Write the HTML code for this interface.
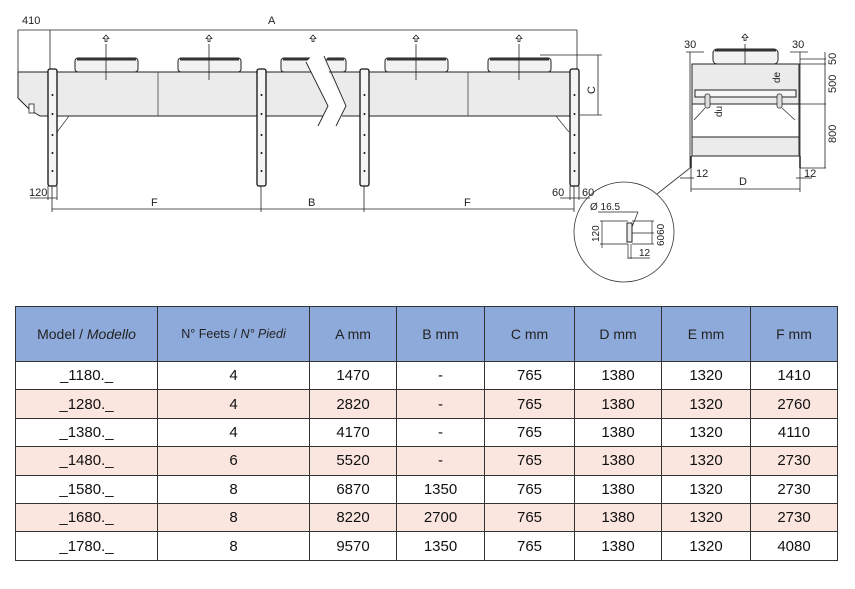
<!DOCTYPE html>
<html><head><meta charset="utf-8"><style>
html,body{margin:0;padding:0;background:#fff;width:855px;height:589px;overflow:hidden;position:relative;font-family:"Liberation Sans",Arial,sans-serif}
svg{position:absolute;left:0;top:0}
table{position:absolute;left:15px;top:306px;border-collapse:collapse;table-layout:fixed}
td{border:1.5px solid #333;text-align:center;font-size:15px;color:#111;padding:0;height:27.4px}
tr.h td{background:#8eaadb;height:54px;font-size:14px;color:#222}
tr.p td{background:#fbe6df}
</style></head><body>
<svg width="855" height="300" viewBox="0 0 855 300" font-family="Liberation Sans Narrow, Liberation Sans, sans-serif" font-size="11" fill="#222">
<g stroke="#222" stroke-width="0.8" fill="none">
<line x1="18" y1="30" x2="577" y2="30"/>
<line x1="18" y1="30" x2="18" y2="72"/>
<line x1="50" y1="30" x2="50" y2="72"/>
<line x1="577" y1="30" x2="577" y2="72"/>
<line x1="540" y1="55" x2="602" y2="55"/>
<line x1="580" y1="115" x2="602" y2="115"/>
<line x1="598" y1="55" x2="598" y2="115"/>
</g>
<path d="M18 72 L577 72 L577 116 L40 116 L30 110 L18 98 Z" fill="#ebebeb" stroke="#222" stroke-width="1"/>
<g stroke="#444" stroke-width="0.8"><line x1="158" y1="72" x2="158" y2="116"/><line x1="468" y1="72" x2="468" y2="116"/></g>
<g fill="#f2f2f2" stroke="#222" stroke-width="1">
<rect x="75" y="58" width="63" height="14" rx="3"/><rect x="178" y="58" width="63" height="14" rx="3"/><rect x="281" y="58" width="65" height="14" rx="3"/><rect x="385" y="58" width="63" height="14" rx="3"/><rect x="488" y="58" width="63" height="14" rx="3"/>
</g>
<g fill="#333">
<rect x="77" y="58" width="59" height="2.5"/><rect x="180" y="58" width="59" height="2.5"/><rect x="283" y="58" width="61" height="2.5"/><rect x="387" y="58" width="59" height="2.5"/><rect x="490" y="58" width="59" height="2.5"/>
</g>
<g stroke="#222" stroke-width="0.8" fill="#fff">
<line x1="106" y1="44" x2="106" y2="80"/><line x1="209" y1="44" x2="209" y2="80"/><line x1="416" y1="44" x2="416" y2="80"/><line x1="519" y1="44" x2="519" y2="80"/>
<path d="M106 35 l-3 3.5 h2 v3 h2 v-3 h2 z"/><path d="M209 35 l-3 3.5 h2 v3 h2 v-3 h2 z"/><path d="M313 35 l-3 3.5 h2 v3 h2 v-3 h2 z"/><path d="M416 35 l-3 3.5 h2 v3 h2 v-3 h2 z"/><path d="M519 35 l-3 3.5 h2 v3 h2 v-3 h2 z"/>
</g>
<path d="M318 50 L306 62 L328 106 L318 126 L338 126 L346 106 L324 62 L334 50 Z" fill="#fff" stroke="none"/>
<path d="M306 62 L328 106 L318 126 M324 56 L346 106 L336 126" fill="none" stroke="#222" stroke-width="0.9"/>
<g stroke="#444" stroke-width="0.8" fill="none"><path d="M69 116 L57 132"/><path d="M556 116 L569 132"/></g>
<rect x="29" y="104" width="5" height="9" fill="#fff" stroke="#222" stroke-width="0.8"/>
<g fill="#f4f4f4" stroke="#111" stroke-width="1.3">
<rect x="48" y="69" width="9" height="117" rx="2"/><rect x="257" y="69" width="9" height="117" rx="2"/><rect x="360" y="69" width="9" height="117" rx="2"/><rect x="570" y="69" width="9" height="117" rx="2"/>
</g>
<g fill="#111">
<circle cx="52.5" cy="95" r="1"/><circle cx="52.5" cy="114" r="1"/><circle cx="52.5" cy="135" r="1"/><circle cx="52.5" cy="153" r="1"/><circle cx="52.5" cy="171" r="1"/>
<circle cx="261.5" cy="95" r="1"/><circle cx="261.5" cy="114" r="1"/><circle cx="261.5" cy="135" r="1"/><circle cx="261.5" cy="153" r="1"/><circle cx="261.5" cy="171" r="1"/>
<circle cx="364.5" cy="95" r="1"/><circle cx="364.5" cy="114" r="1"/><circle cx="364.5" cy="135" r="1"/><circle cx="364.5" cy="153" r="1"/><circle cx="364.5" cy="171" r="1"/>
<circle cx="574.5" cy="95" r="1"/><circle cx="574.5" cy="114" r="1"/><circle cx="574.5" cy="135" r="1"/><circle cx="574.5" cy="153" r="1"/><circle cx="574.5" cy="171" r="1"/>
</g>
<g stroke="#222" stroke-width="0.8" fill="none">
<line x1="52" y1="209" x2="574" y2="209"/>
<line x1="52" y1="186" x2="52" y2="212"/><line x1="261" y1="186" x2="261" y2="212"/><line x1="364" y1="186" x2="364" y2="212"/><line x1="574" y1="186" x2="574" y2="212"/>
<line x1="48" y1="186" x2="48" y2="200"/><line x1="57" y1="186" x2="57" y2="200"/><line x1="30" y1="198" x2="57" y2="198"/>
<line x1="570" y1="186" x2="570" y2="200"/><line x1="579" y1="186" x2="579" y2="200"/><line x1="560" y1="198" x2="590" y2="198"/>
</g>
<text x="22" y="24">410</text>
<text x="268" y="24">A</text>
<text x="29" y="196">120</text>
<text x="151" y="206">F</text>
<text x="308" y="206">B</text>
<text x="464" y="206">F</text>
<text x="552" y="196">60</text>
<text x="582" y="196">60</text>
<text x="0" y="0" transform="translate(595,90) rotate(-90)" text-anchor="middle">C</text>

<g stroke="#222" stroke-width="0.8" fill="none">
<line x1="690" y1="52" x2="690" y2="168"/><line x1="800" y1="52" x2="800" y2="168"/>
<line x1="686" y1="52" x2="704" y2="52"/><line x1="790" y1="52" x2="808" y2="52"/>
<line x1="800" y1="59" x2="826" y2="59"/><line x1="800" y1="64" x2="826" y2="64"/><line x1="800" y1="104" x2="826" y2="104"/><line x1="800" y1="168" x2="826" y2="168"/>
<line x1="825" y1="52" x2="825" y2="168"/>
<line x1="691" y1="189" x2="800" y2="189"/><line x1="691" y1="168" x2="691" y2="192"/><line x1="800" y1="168" x2="800" y2="192"/>
<line x1="680" y1="178" x2="694" y2="178"/><line x1="796" y1="178" x2="812" y2="178"/>
</g>
<rect x="713" y="49" width="65" height="15" rx="4" fill="#f2f2f2" stroke="#222"/>
<rect x="715" y="49" width="61" height="2.5" fill="#333"/>
<line x1="745" y1="44" x2="745" y2="72" stroke="#222" stroke-width="0.8"/>
<path d="M745 34 l-3 3.5 h2 v3 h2 v-3 h2 z" fill="#fff" stroke="#222" stroke-width="0.8"/>
<rect x="692" y="64" width="107" height="40" fill="#ebebeb" stroke="#222"/>
<rect x="692" y="104" width="107" height="52" fill="#fff" stroke="#222"/>
<rect x="692" y="137" width="107" height="19" fill="#ebebeb" stroke="#222"/>
<rect x="695" y="90" width="101" height="7" fill="#f6f6f6" stroke="#222"/>
<g stroke="#333" stroke-width="0.8" fill="#ddd"><rect x="705" y="94" width="5" height="14" rx="2"/><rect x="777" y="94" width="5" height="14" rx="2"/><path d="M705 108 L694 120 M782 108 L795 120" fill="none"/></g>
<g stroke="#222" stroke-width="1.5"><line x1="691" y1="156" x2="691" y2="168"/><line x1="800" y1="156" x2="800" y2="168"/></g>
<text x="684" y="48">30</text><text x="792" y="48">30</text>
<text x="696" y="177">12</text><text x="804" y="177">12</text>
<text x="739" y="185">D</text>
<text transform="translate(836,65) rotate(-90)">50</text>
<text transform="translate(836,93) rotate(-90)">500</text>
<text transform="translate(836,143) rotate(-90)">800</text>
<text transform="translate(780,83) rotate(-90)" font-size="10">de</text>
<text transform="translate(722,117) rotate(-90)" font-size="10">du</text>
<circle cx="624" cy="232" r="50" fill="none" stroke="#333" stroke-width="0.8"/>
<line x1="657" y1="194" x2="690" y2="168" stroke="#333" stroke-width="0.8"/>
<g stroke="#222" stroke-width="0.7" fill="none">
<line x1="598" y1="212" x2="638" y2="212"/><line x1="638" y1="212" x2="630" y2="232"/>
<line x1="600" y1="221" x2="628" y2="221"/><line x1="600" y1="244" x2="628" y2="244"/><line x1="602" y1="221" x2="602" y2="248"/>
<line x1="632" y1="221" x2="654" y2="221"/><line x1="632" y1="244" x2="654" y2="244"/><line x1="652" y1="221" x2="652" y2="244"/><line x1="632" y1="233" x2="654" y2="233"/>
<line x1="628" y1="244" x2="628" y2="259"/><line x1="631" y1="244" x2="631" y2="259"/><line x1="628" y1="258" x2="650" y2="258"/>
</g>
<rect x="627" y="223" width="5" height="19" fill="#eee" stroke="#222"/>
<text x="590" y="210" font-size="10">Ø 16.5</text>
<text transform="translate(599,242) rotate(-90)" font-size="10">120</text>
<text transform="translate(664,246) rotate(-90)" font-size="10">6060</text>
<text x="639" y="256" font-size="10">12</text>
</svg>
<table>
<colgroup><col style="width:142px"><col style="width:152px"><col style="width:87px"><col style="width:88px"><col style="width:90px"><col style="width:87px"><col style="width:89px"><col style="width:87px"></colgroup>
<tr class="h"><td>Model / <i>Modello</i></td><td style="font-size:12.5px">N° Feets / <i>N° Piedi</i></td><td>A mm</td><td>B mm</td><td>C mm</td><td>D mm</td><td>E mm</td><td>F mm</td></tr>
<tr><td>_1180._</td><td>4</td><td>1470</td><td>-</td><td>765</td><td>1380</td><td>1320</td><td>1410</td></tr>
<tr class="p"><td>_1280._</td><td>4</td><td>2820</td><td>-</td><td>765</td><td>1380</td><td>1320</td><td>2760</td></tr>
<tr><td>_1380._</td><td>4</td><td>4170</td><td>-</td><td>765</td><td>1380</td><td>1320</td><td>4110</td></tr>
<tr class="p"><td>_1480._</td><td>6</td><td>5520</td><td>-</td><td>765</td><td>1380</td><td>1320</td><td>2730</td></tr>
<tr><td>_1580._</td><td>8</td><td>6870</td><td>1350</td><td>765</td><td>1380</td><td>1320</td><td>2730</td></tr>
<tr class="p"><td>_1680._</td><td>8</td><td>8220</td><td>2700</td><td>765</td><td>1380</td><td>1320</td><td>2730</td></tr>
<tr><td>_1780._</td><td>8</td><td>9570</td><td>1350</td><td>765</td><td>1380</td><td>1320</td><td>4080</td></tr>
</table>
</body></html>
